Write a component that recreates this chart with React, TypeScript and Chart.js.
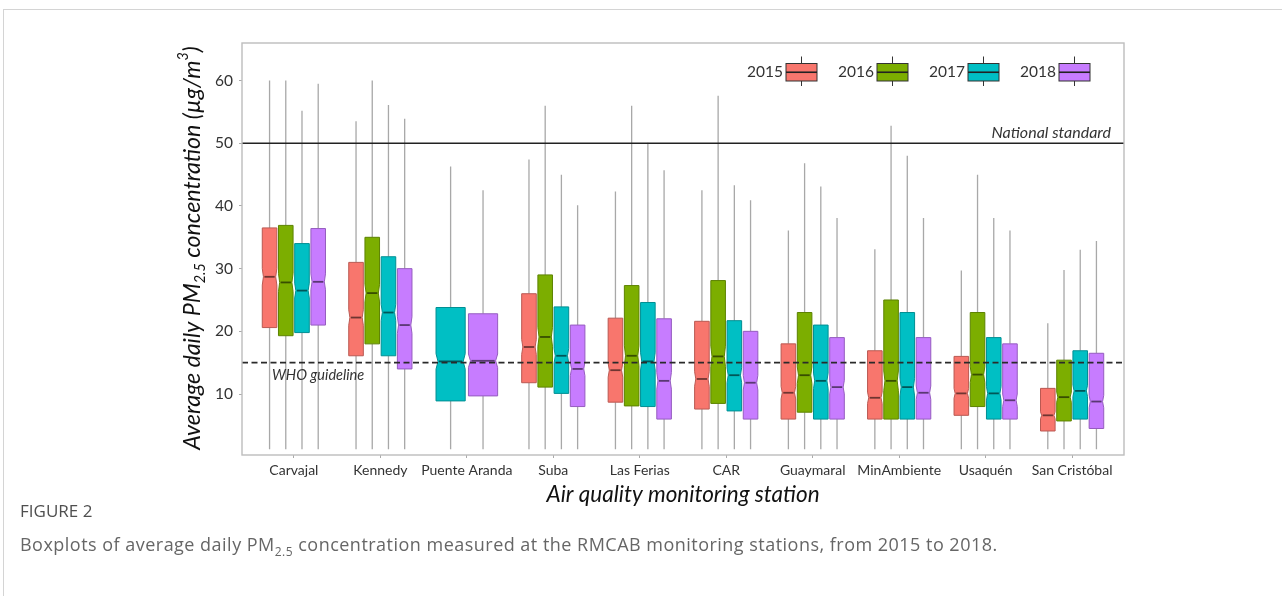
import React, { useEffect, useRef } from 'react';
import { Chart, registerables } from 'chart.js';

Chart.register(...registerables);

// ---------- data ----------
const stations = ['Carvajal', 'Kennedy', 'Puente Aranda', 'Suba', 'Las Ferias', 'CAR', 'Guaymaral', 'MinAmbiente', 'Usaquén', 'San Cristóbal'];
const years = ['2015', '2016', '2017', '2018'];
const yTicks = [10, 20, 30, 40, 50, 60];
const nationalStandard = 50;
const whoGuideline = 15;

// [lower whisker, Q1, median, Q3, upper whisker]; null = no data
const box2015 = [
  [1.2, 20.6, 28.7, 36.5, 60.0],
  [1.2, 16.1, 22.2, 31.0, 53.5],
  null,
  [1.2, 11.8, 17.5, 26.0, 47.4],
  [1.2, 8.7, 13.8, 22.1, 42.3],
  [1.2, 7.6, 12.4, 21.6, 42.5],
  [1.2, 6.0, 10.2, 18.0, 36.1],
  [1.2, 6.0, 9.4, 16.9, 33.1],
  [1.2, 6.6, 10.1, 16.0, 29.7],
  [1.2, 4.1, 6.6, 10.9, 21.3],
];
const box2016 = [
  [1.2, 19.3, 27.8, 36.9, 60.0],
  [1.2, 18.0, 26.1, 35.0, 60.0],
  null,
  [1.2, 11.1, 19.1, 29.0, 56.0],
  [1.2, 8.1, 16.1, 27.3, 56.0],
  [1.2, 8.5, 16.0, 28.1, 57.6],
  [1.2, 7.1, 13.0, 23.0, 46.8],
  [1.2, 6.0, 12.1, 25.0, 52.8],
  [1.2, 8.0, 13.1, 23.0, 45.0],
  [1.2, 5.7, 9.5, 15.4, 29.8],
];
const box2017 = [
  [1.2, 19.8, 26.5, 34.0, 55.2],
  [1.2, 16.1, 23.0, 31.9, 56.1],
  [1.2, 8.9, 15.2, 23.8, 46.3],
  [1.2, 10.1, 16.1, 23.9, 45.0],
  [1.2, 8.0, 15.2, 24.6, 50.1],
  [1.2, 7.3, 13.0, 21.7, 43.3],
  [1.2, 6.0, 12.1, 21.0, 43.1],
  [1.2, 6.0, 11.1, 23.0, 48.0],
  [1.2, 6.0, 10.1, 19.0, 38.1],
  [1.2, 6.0, 10.5, 16.9, 33.0],
];
const box2018 = [
  [1.2, 21.0, 27.9, 36.4, 59.5],
  [1.2, 14.0, 21.0, 30.0, 53.9],
  [1.2, 9.7, 15.3, 22.8, 42.5],
  [1.2, 8.0, 14.0, 21.0, 40.1],
  [1.2, 6.0, 12.1, 22.0, 45.7],
  [1.2, 6.0, 11.8, 20.0, 40.9],
  [1.2, 6.0, 11.1, 19.0, 38.1],
  [1.2, 6.0, 10.2, 19.0, 38.1],
  [1.2, 6.0, 9.0, 18.0, 36.1],
  [1.2, 4.5, 8.8, 16.5, 34.4],
];
const boxesByYear = [box2015, box2016, box2017, box2018];

// ---------- styles ----------
const fills = ['#F8766D', '#7CAE00', '#00BFC4', '#C77CFF'];
const edges = ['#BA5952', '#5D8300', '#008F93', '#955DBF'];
const medians = ['#6F3531', '#384E00', '#005658', '#5A3873'];
const FONT = 'Lato, "Open Sans", sans-serif';
const DODGE = 0.75;

function buildData(j: number) {
  const out: any[] = [];
  stations.forEach((_, i) => {
    const b = boxesByYear[j][i];
    if (!b) return;
    const present = boxesByYear.map((arr) => arr[i] != null);
    const k = present.filter(Boolean).length;
    const idx = present.slice(0, j).filter(Boolean).length;
    const slot = DODGE / k;
    const x = i + 1 - DODGE / 2 + slot * (idx + 0.5);
    out.push({ x, y: b[2], lo: b[0], q1: b[1], med: b[2], q3: b[3], hi: b[4], w: slot * 0.9 });
  });
  return out;
}

const boxPlugin = {
  id: 'boxDraw',
  afterDatasetsDraw(chart: any) {
    const { ctx, chartArea: ca, scales } = chart;
    const xs = scales.x;
    const ys = scales.y;
    ctx.save();
    ctx.beginPath();
    ctx.rect(ca.left, ca.top, ca.width, ca.height);
    ctx.clip();
    chart.data.datasets.forEach((ds: any, j: number) => {
      ds.data.forEach((d: any) => {
        const cx = xs.getPixelForValue(d.x);
        const l = xs.getPixelForValue(d.x - d.w / 2);
        const r = xs.getPixelForValue(d.x + d.w / 2);
        // whiskers
        ctx.strokeStyle = '#a8a8a8';
        ctx.lineWidth = 1.3;
        ctx.beginPath();
        ctx.moveTo(cx, ys.getPixelForValue(d.lo));
        ctx.lineTo(cx, ys.getPixelForValue(d.q1));
        ctx.moveTo(cx, ys.getPixelForValue(d.q3));
        ctx.lineTo(cx, ys.getPixelForValue(d.hi));
        ctx.stroke();
        // notched box
        const notch = (1.58 * (d.q3 - d.q1)) / Math.sqrt(365);
        const ind = Math.min((r - l) * 0.08, 2);
        const yq1 = ys.getPixelForValue(d.q1);
        const yq3 = ys.getPixelForValue(d.q3);
        const ym = ys.getPixelForValue(d.med);
        const ynu = ys.getPixelForValue(d.med + notch);
        const ynl = ys.getPixelForValue(d.med - notch);
        ctx.beginPath();
        ctx.moveTo(l, yq3);
        ctx.lineTo(r, yq3);
        ctx.lineTo(r, ynu);
        ctx.lineTo(r - ind, ym);
        ctx.lineTo(r, ynl);
        ctx.lineTo(r, yq1);
        ctx.lineTo(l, yq1);
        ctx.lineTo(l, ynl);
        ctx.lineTo(l + ind, ym);
        ctx.lineTo(l, ynu);
        ctx.closePath();
        ctx.fillStyle = fills[j];
        ctx.fill();
        ctx.strokeStyle = edges[j];
        ctx.lineWidth = 1;
        ctx.stroke();
        // median
        ctx.strokeStyle = medians[j];
        ctx.lineWidth = 1.8;
        ctx.beginPath();
        ctx.moveTo(l + ind + 1, ym);
        ctx.lineTo(r - ind - 1, ym);
        ctx.stroke();
      });
    });
    // reference lines
    const yN = ys.getPixelForValue(nationalStandard);
    const yW = ys.getPixelForValue(whoGuideline);
    ctx.strokeStyle = '#222';
    ctx.lineWidth = 1.4;
    ctx.beginPath();
    ctx.moveTo(ca.left, yN);
    ctx.lineTo(ca.right, yN);
    ctx.stroke();
    ctx.strokeStyle = '#2a2a2a';
    ctx.lineWidth = 1.6;
    ctx.setLineDash([6, 3.5]);
    ctx.beginPath();
    ctx.moveTo(ca.left, yW);
    ctx.lineTo(ca.right, yW);
    ctx.stroke();
    ctx.setLineDash([]);
    ctx.restore();

    ctx.save();
    ctx.fillStyle = '#333';
    ctx.textBaseline = 'middle';
    ctx.textAlign = 'right';
    ctx.font = `italic 16px ${FONT}`;
    ctx.fillText('National standard', ca.right - 13, yN - 10);
    ctx.textAlign = 'left';
    ctx.font = `italic 14.5px ${FONT}`;
    ctx.fillText('WHO guideline', ca.left + 30, yW + 13);

    // legend
    ctx.font = `15.5px ${FONT}`;
    const gw = 31;
    const gh = 17.5;
    const gy = ca.top + 20.5;
    years.forEach((yr, k) => {
      const gx = ca.right - 34 - gw - (3 - k) * 91;
      const gcx = gx + gw / 2;
      ctx.strokeStyle = '#333';
      ctx.lineWidth = 1;
      ctx.beginPath();
      ctx.moveTo(gcx, gy - 7);
      ctx.lineTo(gcx, gy + gh + 5);
      ctx.stroke();
      ctx.fillStyle = fills[k];
      ctx.fillRect(gx, gy, gw, gh);
      ctx.strokeRect(gx, gy, gw, gh);
      ctx.lineWidth = 1.6;
      ctx.strokeStyle = '#222';
      ctx.beginPath();
      ctx.moveTo(gx, gy + gh / 2);
      ctx.lineTo(gx + gw, gy + gh / 2);
      ctx.stroke();
      ctx.fillStyle = '#333';
      ctx.textAlign = 'right';
      ctx.fillText(yr, gx - 3, gy + gh / 2);
    });

    // panel border
    ctx.strokeStyle = '#bdbdbd';
    ctx.lineWidth = 1.4;
    ctx.strokeRect(ca.left, ca.top, ca.width, ca.height);

    // y-axis title with sub/superscripts
    const parts = [
      { t: 'Average daily PM', s: 1, dy: 0 },
      { t: '2.5', s: 0.62, dy: 0.3 },
      { t: ' concentration (', s: 1, dy: 0 },
      { t: 'µg/m', s: 1, dy: 0 },
      { t: '3', s: 0.62, dy: -0.42 },
      { t: ')', s: 1, dy: 0 },
    ];
    const base = 21;
    const measure = (fs: number) =>
      parts.reduce((acc, p) => {
        ctx.font = `italic ${fs * p.s}px ${FONT}`;
        return acc + ctx.measureText(p.t).width;
      }, 0);
    const target = 404;
    const fs = base * (target / measure(base));
    const total = measure(fs);
    const tx = ca.left - 49;
    const ty = (ca.top + ca.bottom) / 2 - 1;
    ctx.translate(tx, ty);
    ctx.rotate(-Math.PI / 2);
    ctx.textAlign = 'left';
    ctx.textBaseline = 'middle';
    ctx.fillStyle = '#111';
    let cur = -total / 2;
    parts.forEach((p) => {
      ctx.font = `italic ${fs * p.s}px ${FONT}`;
      ctx.fillText(p.t, cur, p.dy * fs);
      cur += ctx.measureText(p.t).width;
    });
    ctx.restore();
  },
};

export default function App() {
  const ref = useRef<HTMLCanvasElement>(null);
  useEffect(() => {
    if (!ref.current) return;
    const chart = new Chart(ref.current, {
      type: 'scatter',
      data: {
        datasets: years.map((yr, j) => ({
          label: yr,
          data: buildData(j),
          backgroundColor: fills[j],
          borderColor: edges[j],
          pointRadius: 0,
          pointHoverRadius: 0,
        })),
      },
      options: {
        animation: false,
        responsive: true,
        maintainAspectRatio: false,
        layout: { padding: { left: 202, right: 158, top: 43, bottom: 81 } },
        plugins: { legend: { display: false }, tooltip: { enabled: false } },
        events: [],
        scales: {
          x: {
            type: 'linear',
            min: 0.4,
            max: 10.6,
            afterBuildTicks: (s: any) => {
              s.ticks = stations.map((_, i) => ({ value: i + 1 }));
            },
            afterFit: (s: any) => {
              s.height = 60;
            },
            ticks: {
              autoSkip: false,
              maxRotation: 0,
              padding: 4,
              color: '#333',
              font: { family: FONT, size: 14 },
              callback: (v: any) => stations[Math.round(Number(v)) - 1] ?? '',
            },
            grid: { display: true, drawOnChartArea: false, drawTicks: true, tickLength: 3, color: '#aaa' },
            border: { display: false },
            title: {
              display: true,
              text: 'Air quality monitoring station',
              color: '#111',
              font: { family: FONT, size: 22.5, style: 'italic' },
              padding: { top: 0, bottom: 7 },
            },
          },
          y: {
            type: 'linear',
            min: 0.27,
            max: 66,
            afterBuildTicks: (s: any) => {
              s.ticks = yTicks.map((v) => ({ value: v }));
            },
            afterFit: (s: any) => {
              s.width = 40;
            },
            ticks: { padding: 6, color: '#333', font: { family: FONT, size: 15.5 } },
            grid: { display: true, drawOnChartArea: false, drawTicks: true, tickLength: 3, color: '#aaa' },
            border: { display: false },
          },
        },
      },
      plugins: [boxPlugin],
    });
    return () => chart.destroy();
  }, []);

  return (
    <div style={{ position: 'absolute', left: 0, top: 0, width: 1282, height: 596, background: '#fff', overflow: 'hidden' }}>
      <div style={{ position: 'absolute', left: 3, top: 9, right: 0, bottom: 0, borderLeft: '1px solid #d4d4d4', borderTop: '1px solid #d4d4d4' }} />
      <div style={{ position: 'absolute', left: 0, top: 0, width: 1282, height: 596 }}>
        <canvas ref={ref} />
      </div>
      <div style={{ position: 'absolute', left: 20, top: 499, fontFamily: '"Open Sans", sans-serif', fontSize: 17, color: '#4f4f4f', letterSpacing: 0 }}>
        FIGURE 2
      </div>
      <div style={{ position: 'absolute', left: 20, top: 532, fontFamily: '"Open Sans", sans-serif', fontSize: 18, color: '#666', whiteSpace: 'nowrap', letterSpacing: 0.48 }}>
        Boxplots of average daily PM<sub style={{ fontSize: 12, verticalAlign: 'sub' }}>2.5</sub> concentration measured at the RMCAB monitoring stations, from 2015 to 2018.
      </div>
    </div>
  );
}
